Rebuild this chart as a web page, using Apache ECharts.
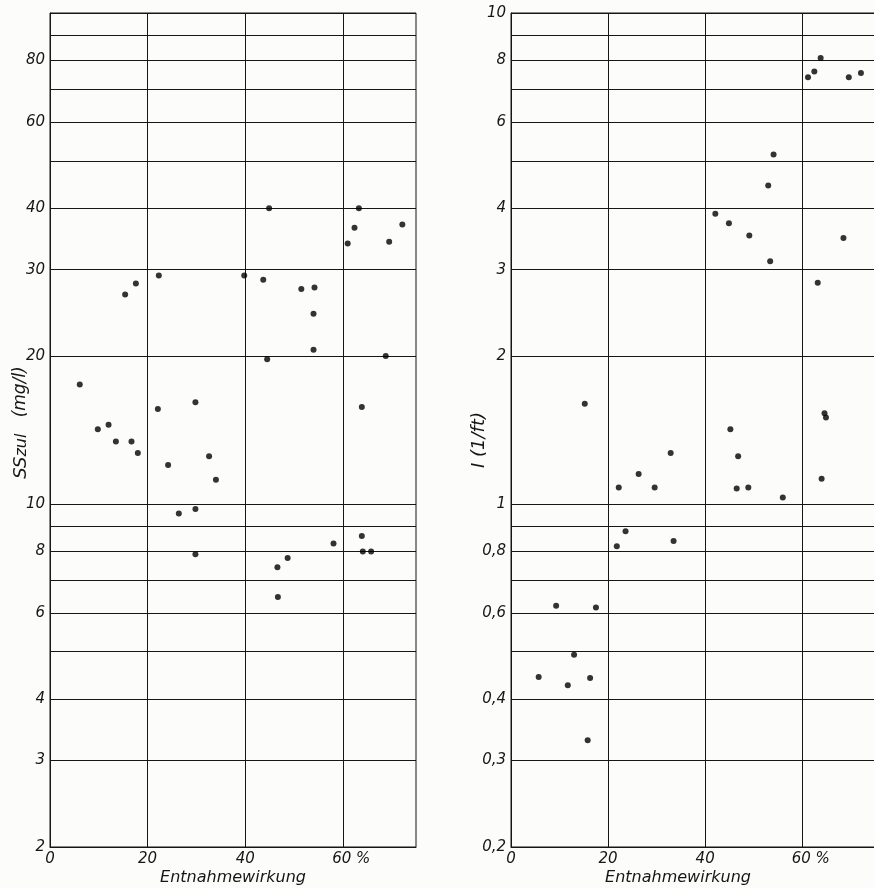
<!DOCTYPE html>
<html>
<head>
<meta charset="utf-8">
<script src="https://cdn.jsdelivr.net/npm/echarts@6/dist/echarts.min.js"></script>
<style>
html,body{margin:0;padding:0;background:#fcfcfb;}
#chart{width:874px;height:888px;}
</style>
</head>
<body>
<div id="chart"></div>
<script>
// Left panel: SSzul (mg/l) vs Entnahmewirkung (%)
const leftX = [6.1, 9.8, 12.0, 13.5, 16.7, 18.0, 15.4, 17.6, 22.3, 22.1, 24.2, 26.4, 29.8, 29.8, 29.8, 32.6, 34.0, 39.8, 43.7, 44.9, 44.5, 46.6, 46.7, 48.7, 51.5, 54.2, 54.0, 54.0, 58.1, 61.0, 62.4, 63.3, 63.9, 63.9, 64.1, 65.8, 68.8, 69.5, 72.2];
const leftY = [17.5, 14.2, 14.5, 13.4, 13.4, 12.7, 26.7, 28.1, 29.2, 15.6, 12.0, 9.56, 16.1, 9.76, 7.9, 12.5, 11.2, 29.2, 28.6, 40, 19.7, 7.43, 6.46, 7.76, 27.4, 27.6, 24.4, 20.6, 8.3, 33.9, 36.5, 40, 15.75, 8.6, 8.0, 8.0, 20.0, 34.2, 37.1];

// Right panel: I (1/ft) vs Entnahmewirkung (%)
const rightX = [63.8, 62.5, 61.2, 69.6, 72.1, 54.1, 53.0, 42.1, 44.9, 49.1, 68.5, 53.4, 63.2, 15.2, 45.2, 64.6, 64.9, 32.9, 46.8, 26.3, 22.2, 29.6, 46.5, 48.9, 64.0, 56.0, 23.6, 21.8, 33.5, 9.3, 17.5, 13.0, 5.7, 11.7, 16.3, 15.8];
const rightY = [8.1, 7.6, 7.4, 7.4, 7.55, 5.15, 4.45, 3.9, 3.73, 3.52, 3.48, 3.12, 2.82, 1.6, 1.42, 1.53, 1.50, 1.27, 1.25, 1.15, 1.08, 1.08, 1.075, 1.08, 1.125, 1.03, 0.88, 0.82, 0.84, 0.62, 0.615, 0.493, 0.444, 0.427, 0.442, 0.33];

// Gridlines and tick labels
const leftGridValues = [2, 3, 4, 5, 6, 7, 8, 9, 10, 20, 30, 40, 50, 60, 70, 80, 90, 100];
const leftLabelValues = [2, 3, 4, 6, 8, 10, 20, 30, 40, 60, 80];
const rightGridValues = [0.2, 0.3, 0.4, 0.5, 0.6, 0.7, 0.8, 0.9, 1, 2, 3, 4, 5, 6, 7, 8, 9, 10];
const rightLabelValues = [0.2, 0.3, 0.4, 0.6, 0.8, 1, 2, 3, 4, 6, 8, 10];
const xTicks = [0, 20, 40, 60];

const FONT = 'DejaVu Sans';
const INK = '#161616';

const chart = echarts.init(document.getElementById('chart'), null, {renderer: 'canvas'});

function pairs(xs, ys) { return xs.map((x, i) => [x, ys[i]]); }
function fmtComma(v) { return String(Math.round(v * 1000) / 1000).replace('.', ','); }

function makeX(gridIndex, nameExtra) {
  return {
    type: 'value', gridIndex: gridIndex, min: 0, max: 75, interval: 20,
    name: 'Entnahmewirkung', nameLocation: 'middle', nameGap: 23, nameMoveOverlap: false,
    nameTextStyle: Object.assign({fontFamily: FONT, fontStyle: 'italic', fontSize: 16, color: INK}, nameExtra || {}),
    axisLine: {show: true, lineStyle: {color: INK, width: 1}},
    axisTick: {show: false, customValues: xTicks},
    axisLabel: {
      customValues: xTicks,
      margin: 5, fontFamily: FONT, fontStyle: 'italic', fontSize: 15, color: INK,
      formatter: v => v === 60 ? '{p|60 %}' : String(v),
      rich: {p: {fontFamily: FONT, fontStyle: 'italic', fontSize: 15, color: INK, padding: [0, 0, 0, 17]}}
    },
    splitLine: {show: true, lineStyle: {color: INK, width: 1}}
  };
}

function makeY(gridIndex, min, max, gridVals, labelVals, name, gap, nameStyle) {
  return {
    type: 'log', gridIndex: gridIndex, min: min, max: max, logBase: 10,
    name: name, nameLocation: 'middle', nameGap: gap, nameMoveOverlap: false,
    nameTextStyle: nameStyle,
    axisLine: {show: true, lineStyle: {color: INK, width: 1}},
    axisTick: {show: false, customValues: gridVals},
    axisLabel: {
      customValues: labelVals, margin: 5,
      fontFamily: FONT, fontStyle: 'italic', fontSize: 15, color: INK,
      formatter: v => fmtComma(v)
    },
    splitLine: {show: true, lineStyle: {color: INK, width: 1}}
  };
}

const leftNameStyle = {
  fontFamily: FONT, fontStyle: 'italic', fontSize: 17, color: INK,
  padding: [0, 0, 0, 15],
  rich: {
    ss: {fontFamily: FONT, fontStyle: 'italic', fontSize: 18, color: INK, lineHeight: 18, verticalAlign: 'top'},
    sub: {fontFamily: FONT, fontStyle: 'italic', fontSize: 16, color: INK, lineHeight: 16, verticalAlign: 'bottom', padding: [5, 0, 0, 0]},
    n: {fontFamily: FONT, fontStyle: 'italic', fontSize: 17, color: INK, lineHeight: 18, verticalAlign: 'top'}
  }
};
const rightNameStyle = {
  fontFamily: FONT, fontStyle: 'italic', fontSize: 18, color: INK,
  padding: [0, 20, 0, 0]
};

const option = {
  backgroundColor: '#fcfcfb',
  animation: false,
  grid: [
    {left: 50, top: 13, width: 366, height: 834, show: true, borderColor: INK, borderWidth: 1, backgroundColor: 'transparent', outerBoundsMode: 'none', containLabel: false},
    {left: 511, top: 13, width: 364, height: 834, show: true, borderColor: INK, borderWidth: 1, backgroundColor: 'transparent', outerBoundsMode: 'none', containLabel: false}
  ],
  xAxis: [makeX(0), makeX(1, {padding: [0, 30, 0, 0]})],
  yAxis: [
    makeY(0, 2, 100, leftGridValues, leftLabelValues, '{ss|SS}{sub|zul}{n|   (mg/l)}', 20, leftNameStyle),
    makeY(1, 0.2, 10, rightGridValues, rightLabelValues, 'I (1/ft)', 23, rightNameStyle)
  ],
  series: [
    {type: 'scatter', xAxisIndex: 0, yAxisIndex: 0, data: pairs(leftX, leftY), symbolSize: 6, itemStyle: {color: '#000'}, silent: true},
    {type: 'scatter', xAxisIndex: 1, yAxisIndex: 1, data: pairs(rightX, rightY), symbolSize: 6, itemStyle: {color: '#000'}, silent: true}
  ]
};
chart.setOption(option);
</script>
</body>
</html>
